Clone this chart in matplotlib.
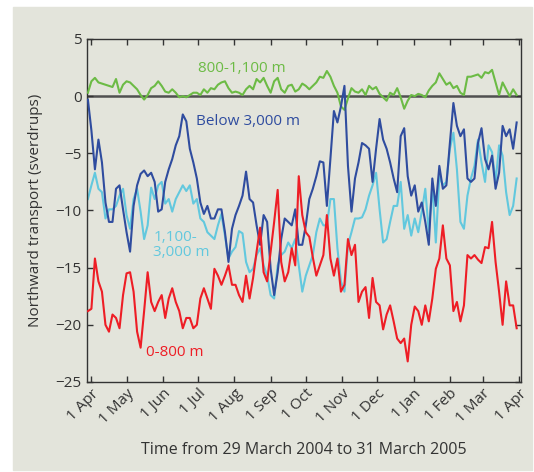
import numpy as np
import pandas as pd
import matplotlib
matplotlib.use("Agg")
import matplotlib.pyplot as plt
from matplotlib.patches import Rectangle

plt.rcParams['font.family'] = ['Open Sans', 'DejaVu Sans']

# 3-day samples, 29 March 2004 -> 31 March 2005 (sverdrups)
dates = pd.date_range('2004-03-29', periods=123, freq='3D')

green = [0.3, 1.3, 1.6, 1.2, 1.1, 1.0, 0.9, 0.8, 1.5, 0.3, 1.0, 1.3, 1.2, 0.9, 0.6, 0.1, -0.3, 0.1, 0.7, 0.9,
         1.3, 0.9, 0.4, 0.3, 0.6, 0.3, -0.1, 0.0, -0.1, 0.1,
         0.3, 0.3, 0.1, 0.6, 0.3, 0.7, 0.6, 1.0, 1.2, 1.3, 0.7, 0.3, 0.4, 0.3, 0.1, 0.6, 0.9, 0.6, 1.5, 1.2,
         1.6, 0.9, 0.3, 1.3, 1.6, 0.6, 0.3, 0.9, 1.0, 0.4,
         0.6, 1.1, 0.9, 0.6, 0.9, 1.2, 1.7, 1.6, 2.2, 1.7, 0.9, 0.3, -0.9, -1.2, -0.2, 0.7, 0.4, 0.3, 0.6, 0.1,
         0.9, 0.6, 0.8, 0.2, -0.1, -0.4, 0.3, 0.1, 0.7, -0.1,
         -1.1, -0.4, 0.1, 0.0, 0.2, 0.1, -0.1, 0.5, 0.9, 1.2, 2.0, 1.5, 1.0, 1.2, 0.7, 0.9, 0.3, 0.1, 1.7, 1.7,
         1.8, 1.9, 1.6, 2.1, 2.0, 2.3, 1.2, 0.1, 1.2, 0.6, 0.0, 0.6, 0.1]

below3000 = [-0.3, -3.0, -6.4, -3.8, -5.8, -9.3, -11.0, -11.0, -8.1, -7.8, -9.9, -11.9, -13.6, -9.6, -7.8, -6.8,
             -6.5, -7.0, -6.7, -7.5, -10.1, -9.9, -7.5, -6.4, -5.5, -4.3, -3.5, -1.6, -2.2, -4.6,
             -5.8, -7.2, -9.3, -10.3, -9.6, -10.7, -10.7, -9.9, -9.9, -11.9, -14.5, -11.6, -10.4, -9.6, -8.7, -6.6,
             -9.0, -9.3, -11.3, -13.0, -10.4, -11.0, -15.1, -17.4, -15.4, -12.5, -10.7, -11.0, -11.3, -9.9,
             -13.0, -13.0, -11.3, -9.0, -8.1, -7.0, -5.7, -5.8, -9.6, -5.5, -1.3, -2.3, -0.9, 0.9, -6.1, -10.1,
             -7.2, -5.8, -4.1, -4.3, -4.6, -7.5, -4.6, -2.0, -3.8, -4.6, -5.8, -7.2, -8.4, -3.5,
             -2.8, -7.0, -8.7, -7.8, -10.1, -9.3, -11.0, -13.0, -7.2, -9.6, -6.1, -8.1, -7.8, -4.1, -0.6, -2.6,
             -3.5, -2.9, -7.2, -7.5, -7.2, -4.1, -2.8, -5.5, -6.4, -5.2, -8.1, -6.7, -2.6, -3.5, -2.9, -4.6, -2.3]

mid = [-9.0, -7.8, -6.7, -8.1, -8.4, -10.7, -9.9, -9.9, -9.6, -8.7, -8.1, -10.4, -11.6, -9.0, -8.1, -10.1,
       -12.5, -11.3, -8.0, -9.0, -7.8, -7.5, -9.4, -9.0, -10.1, -9.0, -8.4, -7.8, -8.3, -7.8,
       -9.4, -9.0, -10.7, -11.0, -11.9, -12.2, -12.5, -11.3, -10.3, -12.2, -14.2, -13.6, -13.2, -11.8, -12.0,
       -14.5, -15.4, -15.1, -13.9, -13.3, -14.8, -15.7, -17.4, -17.7, -14.8, -13.9, -13.6, -12.8, -13.3, -12.5,
       -14.8, -17.1, -15.7, -14.8, -13.9, -11.9, -10.7, -11.3, -11.3, -9.0, -9.0, -13.3, -16.2, -17.1, -13.0,
       -11.9, -10.7, -10.7, -10.6, -9.9, -8.7, -7.8, -6.7, -9.9, -12.8, -12.5, -11.0, -9.6, -9.6, -7.5,
       -11.6, -10.4, -12.2, -10.7, -11.9, -10.1, -8.1, -11.9, -7.8, -12.8, -7.0, -7.8, -7.5, -4.6, -3.2, -6.4,
       -11.0, -11.6, -8.7, -7.2, -6.1, -3.8, -5.8, -7.5, -4.3, -4.9, -7.5, -4.3, -5.2, -8.4, -10.4, -9.6, -7.2]

upper = [-18.8, -18.6, -14.2, -16.2, -17.1, -20.0, -20.6, -19.1, -19.4, -20.3, -17.4, -15.5, -15.4, -17.1,
         -20.6, -22.0, -18.8, -15.4, -18.0, -18.8, -18.0, -17.4, -19.4, -17.7, -16.8, -18.0, -18.8, -20.3,
         -19.4, -19.4,
         -20.3, -20.0, -17.7, -16.8, -17.7, -18.6, -15.1, -15.7, -16.5, -15.7, -14.8, -16.5, -16.5, -17.4,
         -18.0, -15.7, -17.7, -15.9, -13.6, -11.5, -15.4, -16.2, -13.6, -11.0, -8.2, -14.5, -16.2, -15.4,
         -13.3, -14.8,
         -7.0, -10.4, -11.9, -12.3, -14.1, -15.7, -14.8, -13.9, -10.4, -14.2, -15.7, -14.2, -17.1, -16.5,
         -12.5, -13.9, -13.0, -18.0, -17.1, -16.7, -19.4, -15.9, -18.0, -18.3, -20.4, -19.1, -18.3, -19.7,
         -21.2, -21.6,
         -21.2, -23.2, -20.0, -18.4, -18.8, -20.0, -18.3, -19.7, -17.7, -15.1, -14.2, -11.3, -14.2, -14.8,
         -18.8, -18.0, -19.7, -18.3, -13.9, -14.2, -13.9, -14.3, -14.6, -13.2, -13.3, -11.0, -14.5, -17.1,
         -20.0, -16.2, -18.3, -18.3, -20.3]

month_ticks = pd.date_range('2004-04-01', '2005-04-01', freq='MS')
month_labels = ['1 Apr', '1 May', '1 Jun', '1 Jul', '1 Aug', '1 Sep', '1 Oct',
                '1 Nov', '1 Dec', '1 Jan', '1 Feb', '1 Mar', '1 Apr']

bg = '#e3e4db'
fig = plt.figure(figsize=(5.34, 4.72), dpi=100)
fig.patches.append(Rectangle((13 / 534, 2 / 472), 519 / 534, 463 / 472,
                             transform=fig.transFigure, color=bg, zorder=-10))
ax = fig.add_axes([0.1624, 0.1907, 0.8139, 0.7267])
ax.set_facecolor(bg)

ax.axhline(0, color='#505050', lw=1.8, zorder=1)
ax.plot(dates, green, color='#6cbb45', lw=1.5, zorder=3)
ax.plot(dates, mid, color='#62c8de', lw=1.5, zorder=2)
ax.plot(dates, below3000, color='#2f4c9f', lw=1.5, zorder=3)
ax.plot(dates, upper, color='#ee1d25', lw=1.5, zorder=4)

ax.set_xlim(pd.Timestamp('2004-03-28'), pd.Timestamp('2005-04-03'))
ax.set_ylim(-25, 5)
ax.set_yticks([5, 0, -5, -10, -15, -20, -25])
ax.set_xticks(month_ticks)
ax.set_xticklabels(month_labels, rotation=45, ha='right', rotation_mode='anchor')
ax.tick_params(direction='in', top=True, right=True, length=4, width=1,
               labelsize=11, colors='#333333', labelcolor='#333333')
ax.tick_params(axis='x', pad=3)
for s in ax.spines.values():
    s.set_color('#333333')
    s.set_linewidth(1)

ax.set_ylabel('Northward transport (sverdrups)', fontsize=11, color='#333333', labelpad=9)
ax.set_xlabel('Time from 29 March 2004 to 31 March 2005', fontsize=11.5, color='#333333', labelpad=11)

ax.text(pd.Timestamp('2004-07-01'), 2.4, '800-1,100 m', color='#6cbb45', fontsize=11, va='center')
ax.text(pd.Timestamp('2004-06-29'), -2.2, 'Below 3,000 m', color='#2f4c9f', fontsize=11, va='center')
ax.text(pd.Timestamp('2004-05-24'), -13.0, '1,100-\n3,000 m', color='#62c8de', fontsize=11,
        va='center', linespacing=0.95)
ax.text(pd.Timestamp('2004-05-18'), -22.4, '0-800 m', color='#ee1d25', fontsize=11, va='center')

fig.savefig('out.png', dpi=100)
